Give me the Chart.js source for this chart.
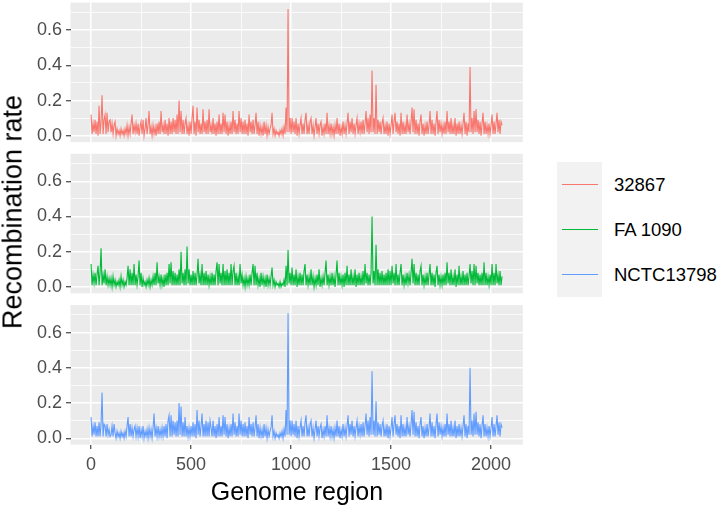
<!DOCTYPE html>
<html>
<head>
<meta charset="utf-8">
<script src="https://cdn.jsdelivr.net/npm/chart.js@4.4.1/dist/chart.umd.min.js"></script>
<style>
  body { margin: 0; background: #fff; width: 720px; height: 507px; position: relative; overflow: hidden; font-family: "Liberation Sans", Arial, sans-serif; }
  canvas { position: absolute; left: 0; }
  .lab { position: absolute; white-space: nowrap; color: #000; }
  #ytitle { left: 13px; top: 212px; font-size: 27px; transform: translate(-50%, -50%) rotate(-90deg); }
  #xtitle { left: 297px; top: 491px; font-size: 25px; transform: translate(-50%, -50%); }
  #legendBox { position: absolute; left: 557px; top: 162px; width: 45px; height: 135px; background: #F2F2F2; }
  .key { position: absolute; left: 562px; width: 36px; height: 1.5px; }
  .legText { position: absolute; left: 614px; font-size: 18.5px; transform: translateY(-50%); }
</style>
</head>
<body>
<canvas id="p1" width="530" height="150" style="top:0px"></canvas>
<canvas id="p2" width="530" height="150" style="top:150px"></canvas>
<canvas id="p3" width="530" height="207" style="top:300px"></canvas>
<div class="lab" id="ytitle">Recombination rate</div>
<div class="lab" id="xtitle">Genome region</div>
<div id="legendBox"></div>
<div class="key" style="top:183.5px;background:#F8766D"></div>
<div class="key" style="top:228.5px;background:#00BA38"></div>
<div class="key" style="top:273.5px;background:#619CFF"></div>
<div class="lab legText" style="top:185px">32867</div>
<div class="lab legText" style="top:230px">FA 1090</div>
<div class="lab legText" style="top:275px">NCTC13798</div>
<script>
// genome regions, every 5th one
const regions = Array.from({ length: 412 }, (_, i) => i * 5);

const seriesNames = ["32867", "FA 1090", "NCTC13798"];
const seriesColors = ["#F8766D", "#00BA38", "#619CFF"];

const xBreaks = [0, 250, 500, 750, 1000, 1250, 1500, 1750, 2000];
const xTickLabels = ["0", "", "500", "", "1000", "", "1500", "", "2000"];
const yBreaks = [0, 0.1, 0.2, 0.3, 0.4, 0.5, 0.6, 0.7];
const yTickLabels = ["0.0", "", "0.2", "", "0.4", "", "0.6", ""];

// 32867
const rate32867 = [
  0.12,0.01,0.07,0.02,0.09, 0.01,0.08,0.00,0.17,0.01, 0.08,0.23,0.01,0.09,0.12, 0.01,0.13,0.02,0.08,0.09,
  0.02,0.07,0.01,0.06,0.08, 0.00,0.04,0.01,0.03,0.00, 0.04,0.01,0.03,0.00,0.04, 0.01,0.06,0.00,0.05,0.01,
  0.07,0.12,0.01,0.06,0.02, 0.07,0.01,0.07,0.00,0.05, 0.08,0.01,0.09,0.00,0.04, 0.10,0.01,0.06,0.14,0.01,
  0.05,0.00,0.06,0.01,0.05, 0.00,0.07,0.01,0.08,0.01, 0.14,0.02,0.06,0.01,0.09, 0.01,0.07,0.00,0.10,0.01,
  0.08,0.01,0.10,0.02,0.09, 0.01,0.12,0.01,0.20,0.02, 0.14,0.01,0.09,0.01,0.07, 0.10,0.01,0.06,0.00,0.08,
  0.01,0.10,0.17,0.01,0.08, 0.00,0.16,0.02,0.09,0.01, 0.07,0.01,0.15,0.02,0.08, 0.01,0.09,0.01,0.15,0.02,
  0.06,0.01,0.10,0.01,0.07, 0.00,0.08,0.01,0.12,0.01, 0.07,0.01,0.13,0.02,0.12, 0.01,0.08,0.00,0.06,0.01,
  0.08,0.01,0.14,0.02,0.09, 0.01,0.07,0.01,0.14,0.02, 0.10,0.01,0.08,0.01,0.09, 0.01,0.07,0.00,0.12,0.02,
  0.08,0.01,0.09,0.01,0.06, 0.13,0.01,0.08,0.00,0.06, 0.01,0.05,0.00,0.08,0.01, 0.06,0.00,0.05,0.01,0.04,
  0.06,0.13,0.01,0.04,0.00, 0.03,0.01,0.02,0.00,0.03, 0.01,0.04,0.00,0.05,0.01, 0.16,0.02,0.72,0.02,0.10,
  0.01,0.10,0.02,0.08,0.01, 0.10,0.00,0.07,0.01,0.06, 0.10,0.01,0.07,0.01,0.09, 0.13,0.01,0.06,0.01,0.08,
  0.10,0.01,0.06,0.00,0.05, 0.10,0.01,0.07,0.01,0.06, 0.08,0.00,0.05,0.01,0.07, 0.01,0.13,0.01,0.06,0.01,
  0.07,0.01,0.05,0.00,0.06, 0.01,0.10,0.01,0.07,0.00, 0.05,0.01,0.08,0.01,0.06, 0.01,0.07,0.13,0.01,0.08,
  0.02,0.10,0.01,0.07,0.01, 0.06,0.10,0.01,0.07,0.02, 0.08,0.01,0.09,0.01,0.07, 0.14,0.02,0.10,0.01,0.12,
  0.02,0.37,0.02,0.10,0.01, 0.29,0.01,0.09,0.02,0.08, 0.01,0.07,0.10,0.01,0.06, 0.01,0.08,0.00,0.07,0.01,
  0.06,0.12,0.01,0.08,0.13, 0.02,0.08,0.01,0.07,0.00, 0.13,0.01,0.08,0.01,0.06, 0.01,0.12,0.02,0.07,0.01,
  0.08,0.16,0.02,0.15,0.01, 0.09,0.01,0.07,0.00,0.08, 0.12,0.01,0.07,0.00,0.06, 0.01,0.08,0.01,0.06,0.14,
  0.01,0.09,0.01,0.07,0.00, 0.08,0.14,0.01,0.09,0.02, 0.07,0.01,0.06,0.01,0.08, 0.01,0.14,0.02,0.08,0.01,
  0.10,0.01,0.06,0.01,0.10, 0.00,0.07,0.01,0.08,0.01, 0.06,0.01,0.07,0.13,0.01, 0.08,0.00,0.07,0.02,0.39,
  0.02,0.10,0.01,0.14,0.02, 0.15,0.02,0.09,0.01,0.08, 0.00,0.07,0.13,0.01,0.08, 0.01,0.06,0.01,0.07,0.01,
  0.06,0.12,0.01,0.08,0.01, 0.07,0.13,0.02,0.09,0.01, 0.08,0.06
];

// FA 1090
const rateFA1090 = [
  0.13,0.01,0.07,0.02,0.08, 0.01,0.07,0.12,0.01,0.08, 0.22,0.01,0.07,0.02,0.10, 0.01,0.06,0.01,0.05,0.01,
  0.05,0.00,0.06,0.01,0.04, 0.00,0.03,0.01,0.04,0.00, 0.06,0.01,0.04,0.00,0.03, 0.01,0.05,0.12,0.01,0.10,
  0.01,0.08,0.01,0.13,0.01, 0.07,0.01,0.06,0.15,0.01, 0.08,0.00,0.05,0.01,0.03, 0.00,0.04,0.01,0.05,0.00,
  0.04,0.01,0.06,0.01,0.08, 0.01,0.14,0.02,0.06,0.01, 0.07,0.01,0.05,0.00,0.07, 0.01,0.08,0.01,0.13,0.02,
  0.14,0.01,0.09,0.01,0.08, 0.01,0.07,0.01,0.10,0.01, 0.20,0.02,0.08,0.01,0.10, 0.01,0.23,0.02,0.10,0.01,
  0.07,0.01,0.09,0.01,0.08, 0.01,0.07,0.16,0.02,0.07, 0.01,0.13,0.01,0.08,0.01, 0.09,0.01,0.07,0.01,0.06,
  0.01,0.08,0.01,0.07,0.01, 0.09,0.14,0.01,0.13,0.02, 0.08,0.01,0.13,0.01,0.09, 0.01,0.10,0.01,0.08,0.01,
  0.13,0.01,0.09,0.12,0.01, 0.08,0.01,0.06,0.01,0.13, 0.02,0.07,0.01,0.05,0.00, 0.06,0.01,0.05,0.01,0.07,
  0.01,0.08,0.13,0.01,0.12, 0.01,0.08,0.01,0.05,0.00, 0.08,0.01,0.06,0.01,0.05, 0.00,0.07,0.01,0.05,0.01,
  0.06,0.11,0.01,0.04,0.00, 0.03,0.01,0.02,0.00,0.03, 0.00,0.02,0.01,0.04,0.00, 0.12,0.01,0.21,0.02,0.08,
  0.01,0.11,0.01,0.07,0.01, 0.10,0.00,0.06,0.01,0.08, 0.01,0.07,0.01,0.09,0.13, 0.01,0.07,0.01,0.06,0.01,
  0.10,0.01,0.06,0.00,0.05, 0.01,0.07,0.01,0.10,0.00, 0.05,0.01,0.06,0.01,0.08, 0.15,0.01,0.07,0.01,0.06,
  0.01,0.08,0.01,0.06,0.00, 0.07,0.15,0.01,0.08,0.01, 0.06,0.01,0.07,0.00,0.08, 0.01,0.12,0.01,0.07,0.01,
  0.10,0.01,0.06,0.01,0.10, 0.00,0.07,0.01,0.08,0.01, 0.06,0.01,0.09,0.01,0.13, 0.02,0.08,0.01,0.07,0.01,
  0.08,0.40,0.02,0.09,0.01, 0.24,0.01,0.10,0.01,0.08, 0.01,0.09,0.01,0.07,0.01, 0.08,0.01,0.10,0.01,0.09,
  0.01,0.12,0.02,0.08,0.01, 0.13,0.01,0.07,0.01,0.08, 0.13,0.01,0.07,0.01,0.06, 0.01,0.08,0.02,0.07,0.01,
  0.08,0.16,0.02,0.13,0.01, 0.08,0.01,0.07,0.01,0.09, 0.12,0.01,0.07,0.01,0.06, 0.01,0.08,0.01,0.07,0.13,
  0.01,0.08,0.01,0.07,0.00, 0.08,0.12,0.01,0.07,0.01, 0.06,0.01,0.07,0.01,0.08, 0.01,0.14,0.02,0.08,0.01,
  0.10,0.01,0.06,0.01,0.10, 0.00,0.07,0.01,0.12,0.01, 0.06,0.01,0.09,0.01,0.07, 0.01,0.08,0.01,0.06,0.13,
  0.02,0.09,0.01,0.13,0.01, 0.12,0.02,0.08,0.01,0.07, 0.01,0.08,0.01,0.14,0.01, 0.08,0.01,0.06,0.01,0.07,
  0.01,0.13,0.01,0.08,0.01, 0.13,0.02,0.07,0.01,0.09, 0.01,0.06
];

// NCTC13798
const rateNCTC13798 = [
  0.12,0.01,0.07,0.02,0.09, 0.01,0.07,0.01,0.09,0.01, 0.08,0.26,0.01,0.08,0.07, 0.01,0.08,0.02,0.05,0.01,
  0.02,0.07,0.01,0.08,0.03, 0.00,0.04,0.01,0.03,0.00, 0.04,0.01,0.03,0.00,0.04, 0.01,0.07,0.12,0.01,0.08,
  0.01,0.06,0.01,0.05,0.07, 0.01,0.06,0.01,0.07,0.00, 0.05,0.01,0.07,0.00,0.04, 0.01,0.05,0.00,0.06,0.01,
  0.05,0.00,0.06,0.14,0.01, 0.06,0.01,0.07,0.01,0.05, 0.01,0.06,0.01,0.07,0.01, 0.08,0.00,0.10,0.13,0.01,
  0.13,0.01,0.10,0.02,0.09, 0.01,0.10,0.01,0.20,0.02, 0.18,0.01,0.09,0.01,0.12, 0.01,0.07,0.01,0.06,0.01,
  0.07,0.01,0.09,0.01,0.08, 0.00,0.16,0.02,0.10,0.01, 0.07,0.14,0.01,0.08,0.01, 0.10,0.01,0.09,0.01,0.10,
  0.06,0.01,0.10,0.01,0.07, 0.00,0.08,0.01,0.12,0.01, 0.07,0.01,0.13,0.02,0.12, 0.01,0.08,0.00,0.06,0.01,
  0.08,0.01,0.14,0.02,0.09, 0.01,0.07,0.01,0.14,0.02, 0.10,0.01,0.08,0.01,0.09, 0.01,0.07,0.00,0.12,0.02,
  0.08,0.01,0.09,0.01,0.06, 0.13,0.01,0.08,0.00,0.06, 0.01,0.05,0.00,0.08,0.01, 0.06,0.00,0.05,0.01,0.04,
  0.06,0.13,0.01,0.04,0.00, 0.03,0.01,0.02,0.00,0.03, 0.01,0.04,0.00,0.05,0.01, 0.16,0.02,0.71,0.02,0.10,
  0.01,0.10,0.02,0.08,0.01, 0.10,0.00,0.07,0.01,0.06, 0.10,0.01,0.07,0.01,0.09, 0.13,0.01,0.06,0.01,0.08,
  0.10,0.01,0.06,0.00,0.05, 0.10,0.01,0.07,0.01,0.06, 0.08,0.00,0.05,0.01,0.07, 0.01,0.13,0.01,0.06,0.01,
  0.07,0.01,0.05,0.00,0.06, 0.01,0.10,0.01,0.07,0.00, 0.05,0.01,0.08,0.01,0.06, 0.01,0.07,0.13,0.01,0.08,
  0.02,0.10,0.01,0.07,0.01, 0.06,0.10,0.01,0.07,0.02, 0.08,0.01,0.09,0.01,0.07, 0.14,0.02,0.10,0.01,0.12,
  0.02,0.38,0.02,0.10,0.01, 0.21,0.01,0.09,0.02,0.08, 0.01,0.07,0.10,0.01,0.06, 0.01,0.08,0.00,0.07,0.01,
  0.06,0.12,0.01,0.08,0.13, 0.02,0.08,0.01,0.07,0.00, 0.13,0.01,0.08,0.01,0.06, 0.01,0.12,0.02,0.07,0.01,
  0.08,0.16,0.02,0.15,0.01, 0.09,0.01,0.07,0.00,0.08, 0.12,0.01,0.07,0.00,0.06, 0.01,0.08,0.01,0.06,0.14,
  0.01,0.09,0.01,0.07,0.00, 0.08,0.14,0.01,0.09,0.02, 0.07,0.01,0.06,0.01,0.08, 0.01,0.14,0.02,0.08,0.01,
  0.10,0.01,0.06,0.01,0.10, 0.00,0.07,0.01,0.08,0.01, 0.06,0.01,0.07,0.13,0.01, 0.08,0.00,0.07,0.02,0.40,
  0.02,0.10,0.01,0.14,0.02, 0.15,0.02,0.09,0.01,0.08, 0.00,0.07,0.13,0.01,0.08, 0.01,0.06,0.01,0.07,0.01,
  0.06,0.12,0.01,0.08,0.01, 0.07,0.13,0.02,0.09,0.01, 0.08,0.06
];

const fontFamily = '"Liberation Sans", Arial, sans-serif';

// gray panel background like ggplot
const panelBg = {
  id: "panelBg",
  beforeDraw(chart) {
    const { ctx, chartArea: a } = chart;
    ctx.save();
    ctx.fillStyle = "#EBEBEB";
    ctx.fillRect(a.left, a.top, a.width, a.height);
    ctx.restore();
  }
};

const makePanel = (id, values, color, padTop, xAxisH, showX) => {
  return new Chart(document.getElementById(id), {
    type: "line",
    data: {
      datasets: [{
        label: seriesNames[seriesColors.indexOf(color)],
        data: regions.map((x, i) => ({ x: x, y: values[i] })),
        borderColor: color,
        borderWidth: 1.1,
        pointRadius: 0,
        tension: 0,
        fill: false
      }]
    },
    options: {
      responsive: false,
      animation: false,
      devicePixelRatio: 1,
      layout: { padding: { top: padTop, right: 7.2, left: 0, bottom: 0 } },
      plugins: { legend: { display: false }, tooltip: { enabled: false } },
      scales: {
        x: {
          type: "linear",
          min: -102.8,
          max: 2158.8,
          afterBuildTicks: (s) => { s.ticks = xBreaks.map((v) => ({ value: v })); },
          afterFit: (s) => {
            s.height = xAxisH;
            s.paddingLeft = 0; s.paddingRight = 0; s.paddingTop = 0; s.paddingBottom = 0;
          },
          border: { display: false },
          grid: {
            color: "#FFFFFF",
            lineWidth: (c) => (c.index % 2 === 0 ? 1.5 : 0.75),
            drawTicks: showX,
            tickLength: 4.5,
            tickWidth: 1.1,
            tickColor: (c) => (c.index % 2 === 0 ? "#333333" : "rgba(0,0,0,0)")
          },
          ticks: {
            display: showX,
            autoSkip: false,
            maxRotation: 0,
            padding: 5,
            color: "#4D4D4D",
            font: { size: 18, family: fontFamily },
            callback: (v, i) => xTickLabels[i]
          }
        },
        y: {
          min: -0.036,
          max: 0.756,
          afterBuildTicks: (s) => { s.ticks = yBreaks.map((v) => ({ value: v })); },
          afterFit: (s) => {
            s.width = 70.5;
            s.paddingLeft = 0; s.paddingRight = 0; s.paddingTop = 0; s.paddingBottom = 0;
          },
          border: { display: false },
          grid: {
            color: "#FFFFFF",
            lineWidth: (c) => (c.index % 2 === 0 ? 1.5 : 0.75),
            tickLength: 4.5,
            tickWidth: 1.1,
            tickColor: (c) => (c.index % 2 === 0 ? "#333333" : "rgba(0,0,0,0)")
          },
          ticks: {
            autoSkip: false,
            padding: 4,
            color: "#4D4D4D",
            font: { size: 18, family: fontFamily },
            callback: (v, i) => yTickLabels[i]
          }
        }
      }
    },
    plugins: [panelBg]
  });
};

makePanel("p1", rate32867, seriesColors[0], 2.6, 7.9, false);
makePanel("p2", rateFA1090, seriesColors[1], 3.8, 6.7, false);
makePanel("p3", rateNCTC13798, seriesColors[2], 5.1, 62.4, true);
</script>
</body>
</html>
